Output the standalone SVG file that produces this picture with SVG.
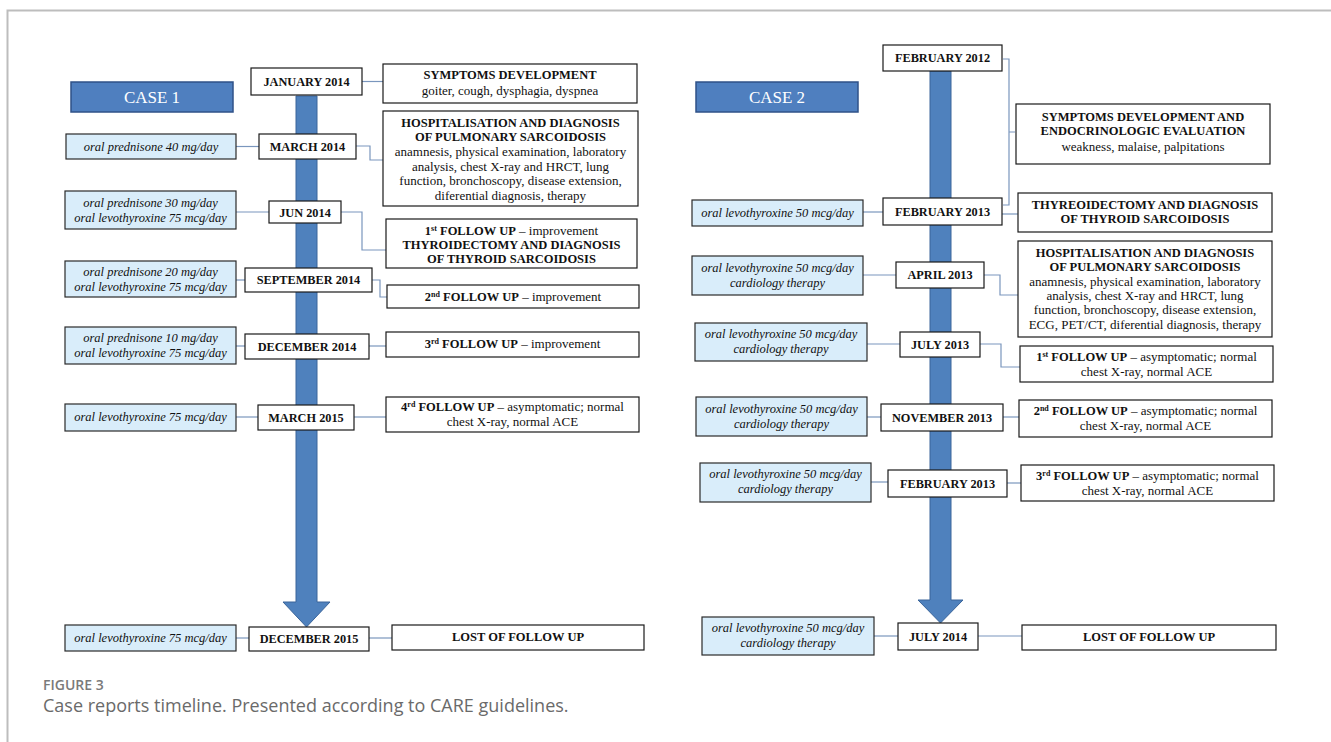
<svg xmlns="http://www.w3.org/2000/svg" width="1331" height="742" viewBox="0 0 1331 742">
<style>
.bg{fill:#ffffff}
.frame{stroke:#bdbdbd;stroke-width:2;fill:none}
.arrow{fill:#4f81bd;stroke:#3a649a;stroke-width:1}
.case{fill:#4f7fbf;stroke:#2f5288;stroke-width:1.5}
.casetxt{font-family:"Liberation Serif","Times New Roman",serif;font-size:17px;fill:#ffffff;text-anchor:middle}
.date{fill:#ffffff;stroke:#1a1a1a;stroke-width:1.2}
.datetxt{font-family:"Liberation Serif","Times New Roman",serif;font-size:12.3px;font-weight:bold;fill:#111;text-anchor:middle}
.med{fill:#d9edfa;stroke:#2a2a2a;stroke-width:1.2}
.medtxt{font-family:"Liberation Serif","Times New Roman",serif;font-size:12.5px;font-style:italic;fill:#111;text-anchor:middle}
.desc{fill:#ffffff;stroke:#1a1a1a;stroke-width:1.2}
.dt{font-family:"Liberation Serif","Times New Roman",serif;font-size:13px;fill:#111;text-anchor:middle}
.b{font-weight:bold;font-size:12.5px}
.sup{font-size:8px;font-weight:bold}
.conn{stroke:#7a96bd;stroke-width:1.2;fill:none}
.cap1{font-family:"Open Sans",sans-serif;font-size:14px;font-weight:600;fill:#7a7a7a}
.cap2{font-family:"Open Sans",sans-serif;font-size:18px;fill:#6a6a6a}
</style>
<rect class="bg" x="0" y="0" width="1331" height="742"/>
<path class="frame" d="M7.5,742 V10.5 H1331"/>

<g id="arrows">
<path class="arrow" d="M296,96 H317 V602 H330 L306.5,627 L283,602 H296 Z"/>
<path class="arrow" d="M930,71 H951 V600 H963 L940.5,623 L918,600 H930 Z"/>
</g>

<g id="connectors">
<path class="conn" d="M362,81.5 H383"/>
<path class="conn" d="M236,146.5 H259"/>
<path class="conn" d="M356,146 H370 V160 H383"/>
<path class="conn" d="M236,212 H269"/>
<path class="conn" d="M341,212 H362 V250 H386"/>
<path class="conn" d="M236,280 H245"/>
<path class="conn" d="M372,280 H380 V297 H387"/>
<path class="conn" d="M236,346 H245"/>
<path class="conn" d="M369,346 H386"/>
<path class="conn" d="M236,417 H258"/>
<path class="conn" d="M354,417 H386"/>
<path class="conn" d="M236,638 H249"/>
<path class="conn" d="M369,638 H392"/>
<path class="conn" d="M1003,59 H1009 V205 H1003 M1009,132 H1015"/>
<path class="conn" d="M863,212 H883"/>
<path class="conn" d="M1002,214 H1018"/>
<path class="conn" d="M863,275 H896"/>
<path class="conn" d="M984,275 H1000 V295 H1018"/>
<path class="conn" d="M867,344 H900"/>
<path class="conn" d="M980,344 H1001 V367 H1020"/>
<path class="conn" d="M867,417 H881"/>
<path class="conn" d="M1003,417 H1019"/>
<path class="conn" d="M871,482 H888"/>
<path class="conn" d="M1007,483 H1021"/>
<path class="conn" d="M874,636 H898"/>
<path class="conn" d="M978,636 H1022"/>
</g>

<!-- CASE 1 -->
<g id="case1"><rect class="case" x="71" y="82" width="162" height="30"/><text class="casetxt" x="152" y="103">CASE 1</text></g>
<g id="c1-jan2014"><rect class="date" x="251" y="68" width="111" height="27"/><text class="datetxt" x="306.5" y="86">JANUARY 2014</text></g>
<g id="c1-symptoms"><rect class="desc" x="383" y="64" width="254" height="39"/>
<text class="dt b" x="510" y="79">SYMPTOMS DEVELOPMENT</text>
<text class="dt" x="510" y="95">goiter, cough, dysphagia, dyspnea</text></g>
<g id="c1-med1"><rect class="med" x="66" y="134" width="170" height="25"/><text class="medtxt" x="151" y="150.5">oral prednisone 40 mg/day</text></g>
<g id="c1-mar2014"><rect class="date" x="259" y="134" width="97" height="25"/><text class="datetxt" x="307.5" y="151">MARCH 2014</text></g>
<g id="c1-hosp"><rect class="desc" x="383" y="111" width="255" height="95"/>
<text class="dt b" x="510.5" y="127">HOSPITALISATION AND DIAGNOSIS</text>
<text class="dt b" x="510.5" y="141">OF PULMONARY SARCOIDOSIS</text>
<text class="dt" x="510.5" y="156">anamnesis, physical examination, laboratory</text>
<text class="dt" x="510.5" y="171">analysis, chest X-ray and HRCT, lung</text>
<text class="dt" x="510.5" y="185">function, bronchoscopy, disease extension,</text>
<text class="dt" x="510.5" y="200">diferential diagnosis, therapy</text></g>
<g id="c1-med2"><rect class="med" x="65" y="191" width="171" height="38"/>
<text class="medtxt" x="150.5" y="207">oral prednisone 30 mg/day</text>
<text class="medtxt" x="150.5" y="222">oral levothyroxine 75 mcg/day</text></g>
<g id="c1-jun2014"><rect class="date" x="269" y="201" width="72" height="22"/><text class="datetxt" x="305" y="216.5">JUN 2014</text></g>
<g id="c1-fu1"><rect class="desc" x="386" y="219" width="251" height="49"/>
<text class="dt" x="511.5" y="235"><tspan class="b">1<tspan class="sup" dy="-4">st</tspan><tspan dy="4"> FOLLOW UP</tspan></tspan> – improvement</text>
<text class="dt b" x="511.5" y="249">THYROIDECTOMY AND DIAGNOSIS</text>
<text class="dt b" x="511.5" y="263">OF THYROID SARCOIDOSIS</text></g>
<g id="c1-med3"><rect class="med" x="65" y="261" width="171" height="36"/>
<text class="medtxt" x="150.5" y="276">oral prednisone 20 mg/day</text>
<text class="medtxt" x="150.5" y="291">oral levothyroxine 75 mcg/day</text></g>
<g id="c1-sep2014"><rect class="date" x="245" y="268" width="127" height="24"/><text class="datetxt" x="308.5" y="284">SEPTEMBER 2014</text></g>
<g id="c1-fu2"><rect class="desc" x="387" y="285" width="252" height="23"/>
<text class="dt" x="513" y="301"><tspan class="b">2<tspan class="sup" dy="-4">nd</tspan><tspan dy="4"> FOLLOW UP</tspan></tspan> – improvement</text></g>
<g id="c1-med4"><rect class="med" x="65" y="327" width="171" height="37"/>
<text class="medtxt" x="150.5" y="342">oral prednisone 10 mg/day</text>
<text class="medtxt" x="150.5" y="357">oral levothyroxine 75 mcg/day</text></g>
<g id="c1-dec2014"><rect class="date" x="245" y="334" width="124" height="25"/><text class="datetxt" x="307" y="350.5">DECEMBER 2014</text></g>
<g id="c1-fu3"><rect class="desc" x="386" y="332" width="253" height="25"/>
<text class="dt" x="512.5" y="348"><tspan class="b">3<tspan class="sup" dy="-4">rd</tspan><tspan dy="4"> FOLLOW UP</tspan></tspan> – improvement</text></g>
<g id="c1-med5"><rect class="med" x="65" y="404" width="171" height="27"/>
<text class="medtxt" x="150.5" y="421">oral levothyroxine 75 mcg/day</text></g>
<g id="c1-mar2015"><rect class="date" x="258" y="405" width="96" height="25"/><text class="datetxt" x="306" y="421.5">MARCH 2015</text></g>
<g id="c1-fu4"><rect class="desc" x="386" y="397" width="253" height="35"/>
<text class="dt" x="512.5" y="411"><tspan class="b">4<tspan class="sup" dy="-4">rd</tspan><tspan dy="4"> FOLLOW UP</tspan></tspan> – asymptomatic; normal</text>
<text class="dt" x="512.5" y="426">chest X-ray, normal ACE</text></g>
<g id="c1-med6"><rect class="med" x="65" y="625" width="171" height="26"/>
<text class="medtxt" x="150.5" y="642">oral levothyroxine 75 mcg/day</text></g>
<g id="c1-dec2015"><rect class="date" x="249" y="627" width="120" height="24"/><text class="datetxt" x="309" y="643">DECEMBER 2015</text></g>
<g id="c1-lost"><rect class="desc" x="392" y="625" width="252" height="25"/>
<text class="dt b" x="518" y="641">LOST OF FOLLOW UP</text></g>

<!-- CASE 2 -->
<g id="case2"><rect class="case" x="696" y="82" width="162" height="30"/><text class="casetxt" x="777" y="103">CASE 2</text></g>
<g id="c2-feb2012"><rect class="date" x="883" y="45" width="119" height="26"/><text class="datetxt" x="942.5" y="62">FEBRUARY 2012</text></g>
<g id="c2-symptoms"><rect class="desc" x="1016" y="104" width="254" height="60"/>
<text class="dt b" x="1143" y="121">SYMPTOMS DEVELOPMENT AND</text>
<text class="dt b" x="1143" y="135">ENDOCRINOLOGIC EVALUATION</text>
<text class="dt" x="1143" y="151">weakness, malaise, palpitations</text></g>
<g id="c2-med1"><rect class="med" x="692" y="200" width="171" height="26"/>
<text class="medtxt" x="777.5" y="217">oral levothyroxine 50 mcg/day</text></g>
<g id="c2-feb2013"><rect class="date" x="883" y="198" width="119" height="27"/><text class="datetxt" x="942.5" y="216">FEBRUARY 2013</text></g>
<g id="c2-thy"><rect class="desc" x="1018" y="193" width="254" height="39"/>
<text class="dt b" x="1145" y="209">THYREOIDECTOMY AND DIAGNOSIS</text>
<text class="dt b" x="1145" y="223">OF THYROID SARCOIDOSIS</text></g>
<g id="c2-med2"><rect class="med" x="692" y="256" width="171" height="39"/>
<text class="medtxt" x="777.5" y="272">oral levothyroxine 50 mcg/day</text>
<text class="medtxt" x="777.5" y="287">cardiology therapy</text></g>
<g id="c2-apr2013"><rect class="date" x="896" y="262" width="88" height="26"/><text class="datetxt" x="940" y="279">APRIL 2013</text></g>
<g id="c2-hosp"><rect class="desc" x="1018" y="241" width="254" height="96"/>
<text class="dt b" x="1145" y="257">HOSPITALISATION AND DIAGNOSIS</text>
<text class="dt b" x="1145" y="271">OF PULMONARY SARCOIDOSIS</text>
<text class="dt" x="1145" y="286">anamnesis, physical examination, laboratory</text>
<text class="dt" x="1145" y="300">analysis, chest X-ray and HRCT, lung</text>
<text class="dt" x="1145" y="314">function, bronchoscopy, disease extension,</text>
<text class="dt" x="1145" y="329">ECG, PET/CT, diferential diagnosis, therapy</text></g>
<g id="c2-med3"><rect class="med" x="695" y="323" width="172" height="38"/>
<text class="medtxt" x="781" y="338">oral levothyroxine 50 mcg/day</text>
<text class="medtxt" x="781" y="353">cardiology therapy</text></g>
<g id="c2-jul2013"><rect class="date" x="900" y="332" width="80" height="25"/><text class="datetxt" x="940" y="349">JULY 2013</text></g>
<g id="c2-fu1"><rect class="desc" x="1020" y="346" width="253" height="36"/>
<text class="dt" x="1146.5" y="361"><tspan class="b">1<tspan class="sup" dy="-4">st</tspan><tspan dy="4"> FOLLOW UP</tspan></tspan> – asymptomatic; normal</text>
<text class="dt" x="1146.5" y="376">chest X-ray, normal ACE</text></g>
<g id="c2-med4"><rect class="med" x="696" y="397" width="171" height="39"/>
<text class="medtxt" x="781.5" y="413">oral levothyroxine 50 mcg/day</text>
<text class="medtxt" x="781.5" y="428">cardiology therapy</text></g>
<g id="c2-nov2013"><rect class="date" x="881" y="404" width="122" height="27"/><text class="datetxt" x="942" y="422">NOVEMBER 2013</text></g>
<g id="c2-fu2"><rect class="desc" x="1019" y="400" width="253" height="37"/>
<text class="dt" x="1145.5" y="415"><tspan class="b">2<tspan class="sup" dy="-4">nd</tspan><tspan dy="4"> FOLLOW UP</tspan></tspan> – asymptomatic; normal</text>
<text class="dt" x="1145.5" y="430">chest X-ray, normal ACE</text></g>
<g id="c2-med5"><rect class="med" x="700" y="463" width="171" height="39"/>
<text class="medtxt" x="785.5" y="478">oral levothyroxine 50 mcg/day</text>
<text class="medtxt" x="785.5" y="493">cardiology therapy</text></g>
<g id="c2-feb2013b"><rect class="date" x="888" y="470" width="119" height="27"/><text class="datetxt" x="947.5" y="488">FEBRUARY 2013</text></g>
<g id="c2-fu3"><rect class="desc" x="1021" y="465" width="253" height="36"/>
<text class="dt" x="1147.5" y="480"><tspan class="b">3<tspan class="sup" dy="-4">rd</tspan><tspan dy="4"> FOLLOW UP</tspan></tspan> – asymptomatic; normal</text>
<text class="dt" x="1147.5" y="495">chest X-ray, normal ACE</text></g>
<g id="c2-med6"><rect class="med" x="702" y="617" width="172" height="38"/>
<text class="medtxt" x="788" y="632">oral levothyroxine 50 mcg/day</text>
<text class="medtxt" x="788" y="647">cardiology therapy</text></g>
<g id="c2-jul2014"><rect class="date" x="898" y="623" width="80" height="27"/><text class="datetxt" x="938" y="641">JULY 2014</text></g>
<g id="c2-lost"><rect class="desc" x="1022" y="625" width="254" height="25"/>
<text class="dt b" x="1149" y="641">LOST OF FOLLOW UP</text></g>

<g id="caption">
<text class="cap1" x="43" y="690">FIGURE 3</text>
<text class="cap2" x="43" y="712">Case reports timeline. Presented according to CARE guidelines.</text>
</g>
</svg>
